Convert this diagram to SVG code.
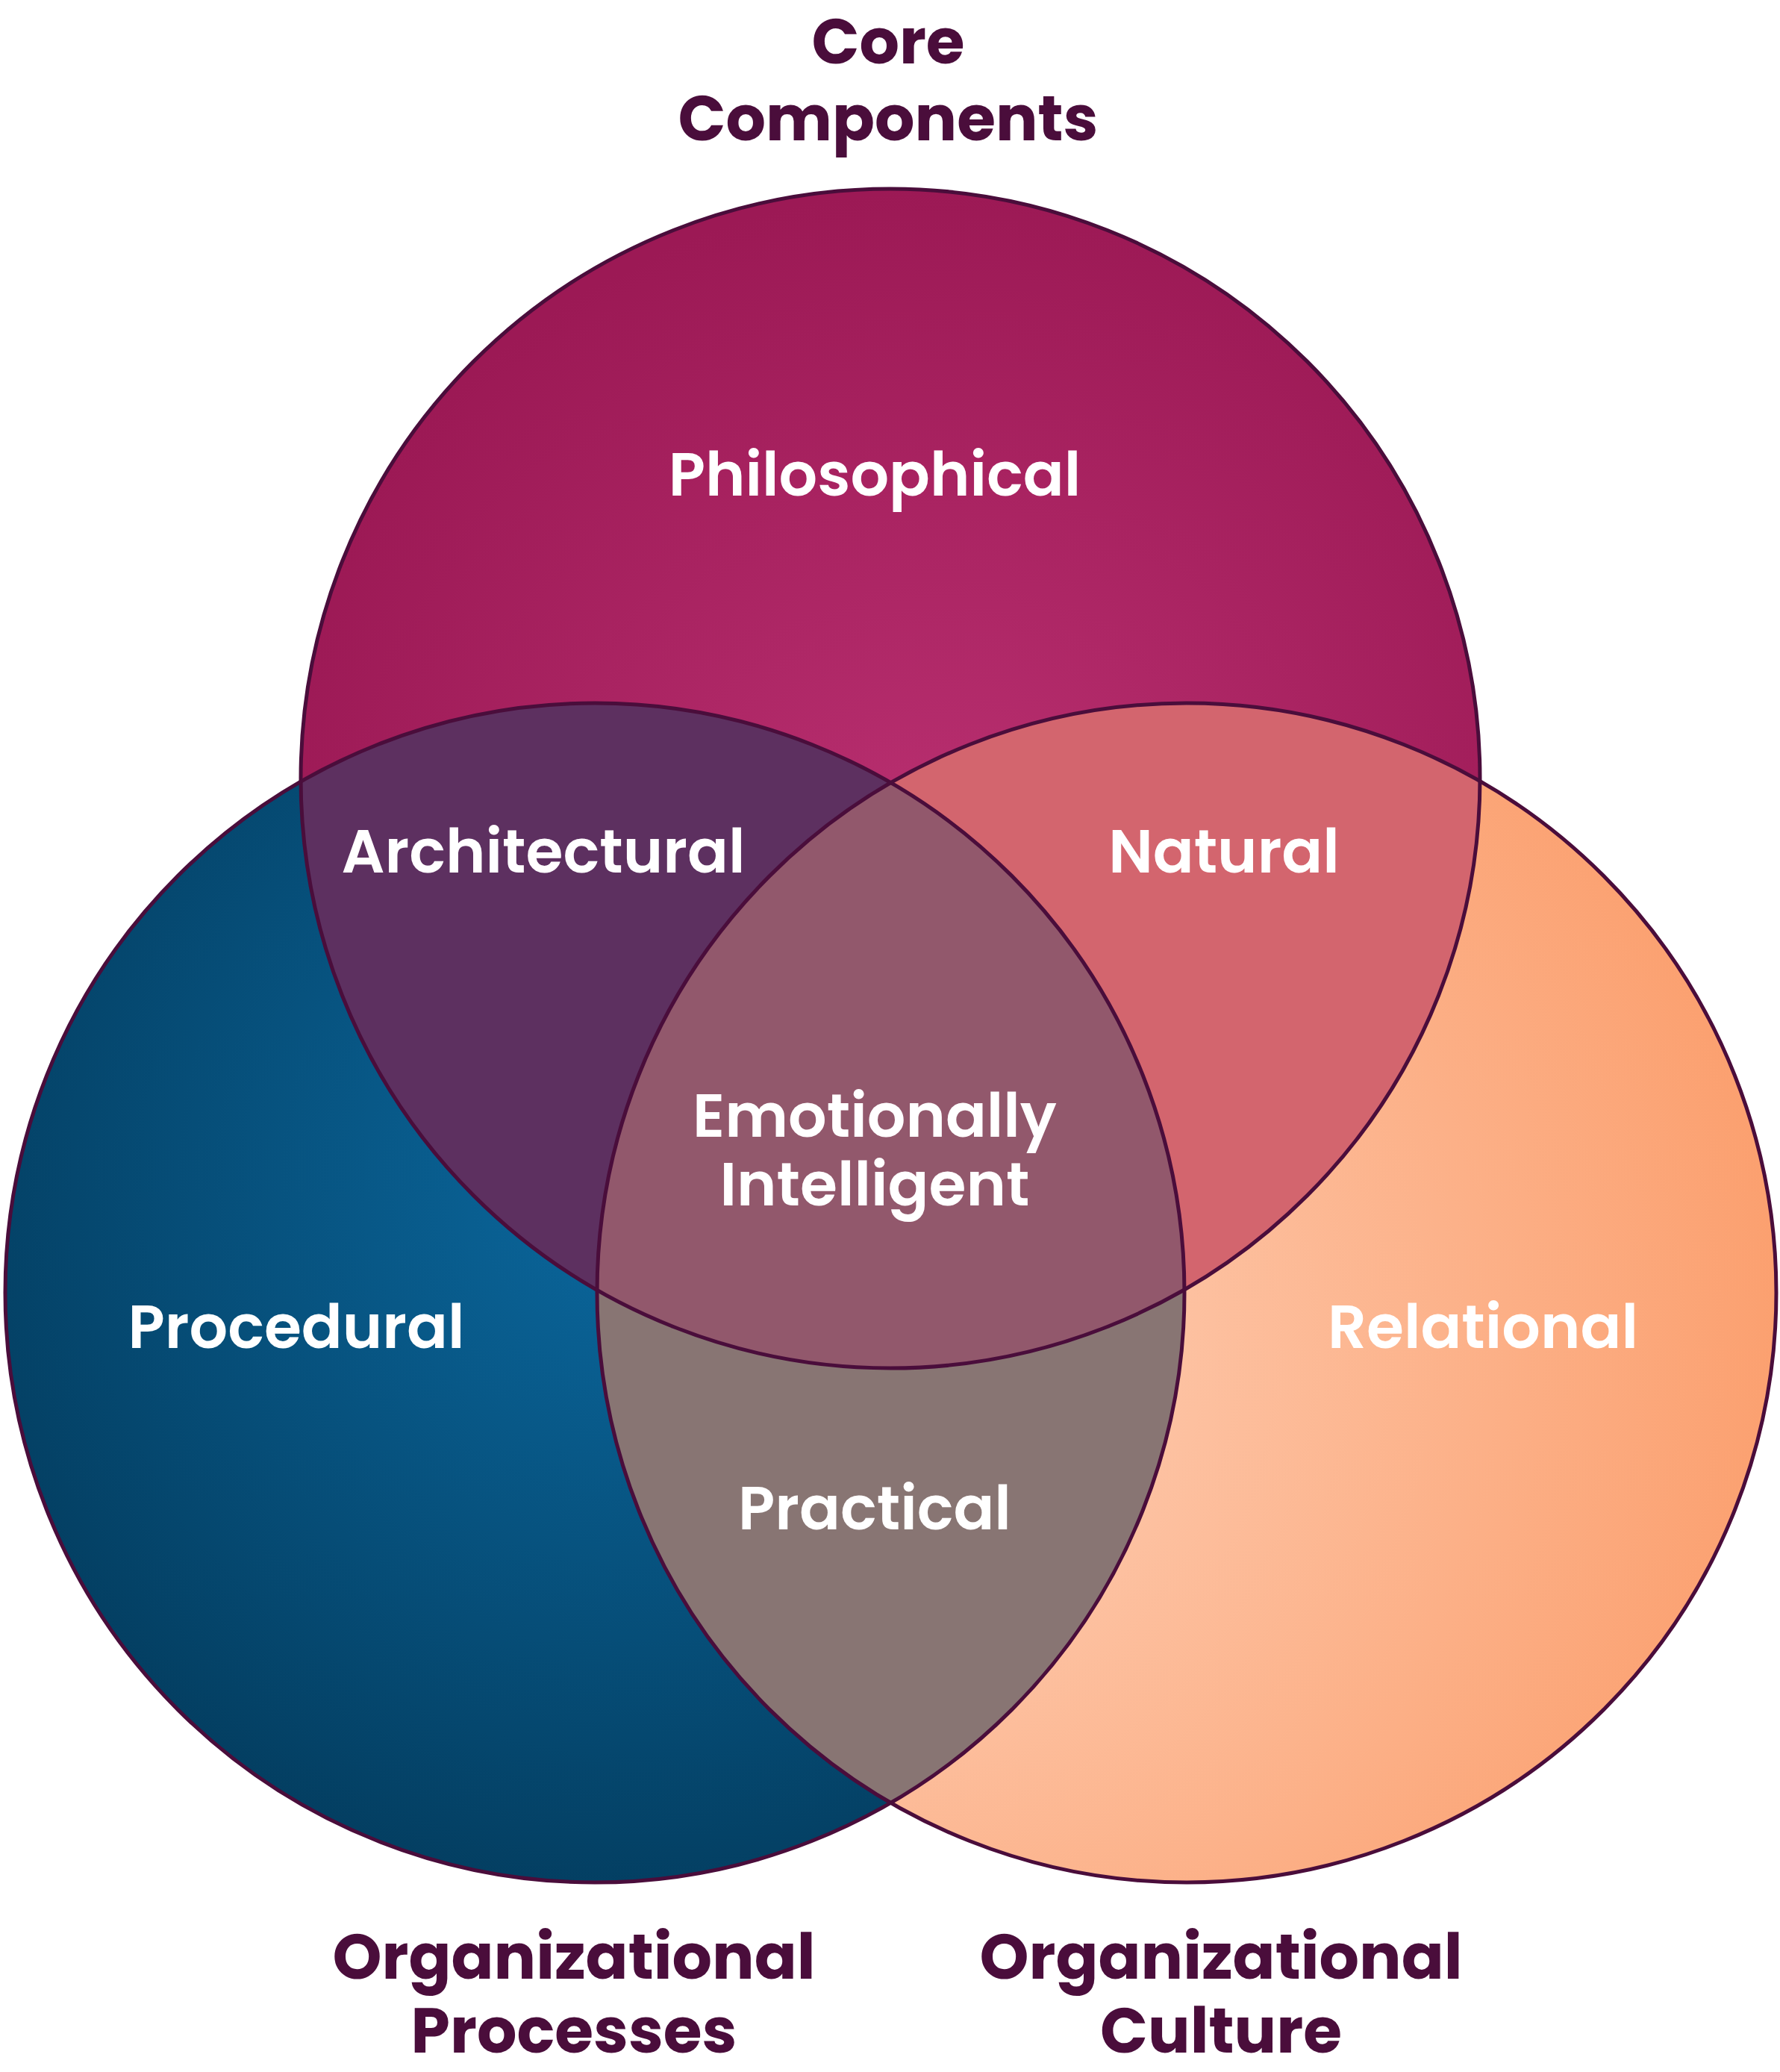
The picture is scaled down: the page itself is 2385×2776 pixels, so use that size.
<svg xmlns="http://www.w3.org/2000/svg" width="2385" height="2776" viewBox="0 0 2385 2776">
<style>
.lbl{font-family:Poppins,"Open Sans","Liberation Sans",sans-serif;font-weight:700;text-anchor:middle}
.in{fill:#ffffff;font-size:81px;font-weight:600}
.out{fill:#4a0d3b;font-size:84px}
.ring{fill:none;stroke:#4a0d3b;stroke-width:5}
</style>
<defs>
<radialGradient id="gTop" cx="0.55" cy="0.6" r="0.6"><stop offset="0" stop-color="#bb3172"/><stop offset="1" stop-color="#9c1955"/></radialGradient>
<radialGradient id="gLeft" cx="0.55" cy="0.4" r="0.65"><stop offset="0" stop-color="#0b69a0"/><stop offset="1" stop-color="#033c5e"/></radialGradient>
<radialGradient id="gRight" cx="0.2" cy="0.55" r="0.85"><stop offset="0" stop-color="#fed4bd"/><stop offset="1" stop-color="#fb9d6b"/></radialGradient>
<clipPath id="cTop"><circle cx="1193" cy="1043" r="790"/></clipPath>
<clipPath id="cLeft"><circle cx="797" cy="1732" r="790"/></clipPath>
<clipPath id="cRight"><circle cx="1590" cy="1732" r="790"/></clipPath>
</defs>
<g id="circle-top"><circle cx="1193" cy="1043" r="790" fill="url(#gTop)"/></g>
<g id="circle-left"><circle cx="797" cy="1732" r="790" fill="url(#gLeft)"/></g>
<g id="circle-right"><circle cx="1590" cy="1732" r="790" fill="url(#gRight)"/></g>
<g id="overlaps">
<g clip-path="url(#cTop)"><circle cx="797" cy="1732" r="790" fill="#5d3060"/><circle cx="1590" cy="1732" r="790" fill="#d3656e"/></g>
<g clip-path="url(#cLeft)"><circle cx="1590" cy="1732" r="790" fill="#887573"/></g>
<g clip-path="url(#cTop)"><g clip-path="url(#cLeft)"><circle cx="1590" cy="1732" r="790" fill="#92586c"/></g></g>
</g>
<g id="connectors">
<circle class="ring" cx="1193" cy="1043" r="790"/>
<circle class="ring" cx="797" cy="1732" r="790"/>
<circle class="ring" cx="1590" cy="1732" r="790"/>
</g>
<g id="labels">
<text class="lbl out" x="1190" y="85">Core</text>
<text class="lbl out" x="1190" y="188">Components</text>
<text class="lbl in" x="1172" y="664">Philosophical</text>
<text class="lbl in" x="728" y="1169">Architectural</text>
<text class="lbl in" x="1640" y="1169">Natural</text>
<text class="lbl in" x="1172" y="1523">Emotionally</text>
<text class="lbl in" x="1172" y="1615">Intelligent</text>
<text class="lbl in" x="397" y="1806">Procedural</text>
<text class="lbl in" x="1987" y="1806">Relational</text>
<text class="lbl in" x="1172" y="2049">Practical</text>
<text class="lbl out" x="769" y="2651">Organizational</text>
<text class="lbl out" x="769" y="2750">Processes</text>
<text class="lbl out" x="1636" y="2651">Organizational</text>
<text class="lbl out" x="1636" y="2750">Culture</text>
</g>
</svg>
